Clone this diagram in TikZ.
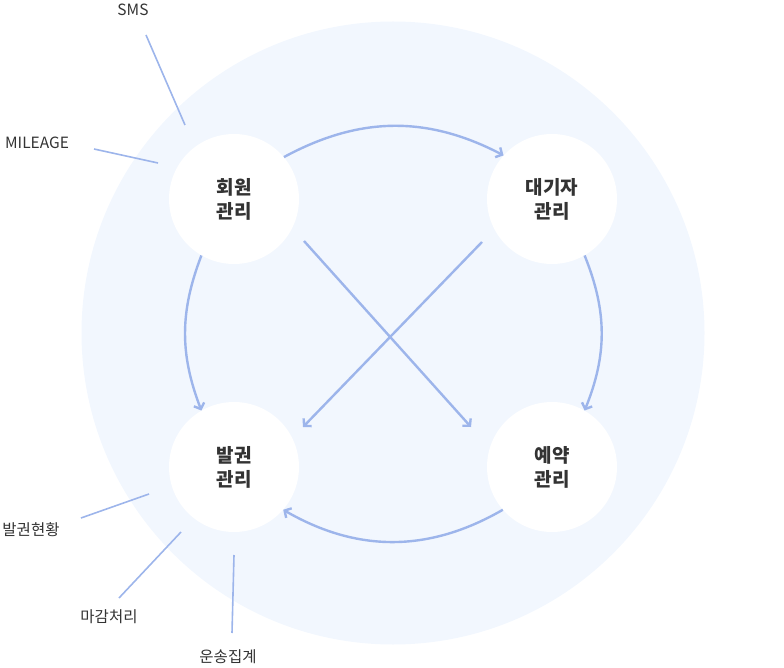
\documentclass[tikz,border=0pt]{standalone}
\usepackage{fontspec}
\usepackage{xcolor}
\usepackage{tikz}
\usetikzlibrary{arrows.meta, positioning}
\newfontfamily\kr{Noto Sans CJK KR}
\definecolor{bgblue}{HTML}{F2F7FE}
\definecolor{lineblue}{HTML}{9DB5EB}
\definecolor{txt}{HTML}{333333}

\begin{document}
\begin{tikzpicture}[x=1pt, y=-1pt,
  task/.style={circle, fill=white, minimum size=130pt, inner sep=0pt,
               align=center, text=txt, font=\kr\fontsize{19}{24}\selectfont\bfseries},
  tag/.style={text=txt, font=\kr\fontsize{15.5}{17}\selectfont, inner sep=0pt},
  arr/.style={-{Straight Barb[length=5pt, width=11pt]}, draw=lineblue, line width=2.4pt},
  lead/.style={draw=lineblue, line width=1.6pt}
]
  \useasboundingbox (0,0) rectangle (784,668);
  \fill[bgblue] (393,333) circle[radius=311.5pt];

  \node[task] (hoewon) at (234,199) {회원\\관리};
  \node[task] (daegi) at (552,199) {대기자\\관리};
  \node[task] (balgwon) at (234,467) {발권\\관리};
  \node[task] (yeyak) at (552,467) {예약\\관리};

  % arcs round the ring
  \draw[arr] (hoewon.40) to[bend left=28] (daegi.138);
  \draw[arr] (daegi.-60) to[bend left=22] (yeyak.60);
  \draw[arr] (yeyak.-139) to[bend left=30] (balgwon.-41);
  \draw[arr] (hoewon.-120) to[bend right=21] (balgwon.120);

  % cross
  \coordinate (c1) at (304,241);
  \coordinate (c2) at (471,427);
  \coordinate (c3) at (482,242);
  \coordinate (c4) at (303,427);
  \draw[arr] (c1) -- (c2);
  \draw[arr] (c3) -- (c4);

  % outside labels
  \node[tag] (sms) at (133,10) {SMS};
  \node[tag] (mileage) at (37,143) {MILEAGE};
  \node[tag] (hyeonhwang) at (31,530) {발권현황};
  \node[tag] (magam) at (109,617) {마감처리};
  \node[tag] (unsong) at (228,657) {운송집계};

  \coordinate (s1) at (146,35);   \coordinate (s2) at (185,125);
  \coordinate (m1) at (94,149);   \coordinate (m2) at (158,163);
  \coordinate (h1) at (81,518);   \coordinate (h2) at (149,494);
  \coordinate (g1) at (119,598);  \coordinate (g2) at (181,532);
  \coordinate (u1) at (232,633);  \coordinate (u2) at (234,555);
  \draw[lead] (s1) -- (s2);
  \draw[lead] (m1) -- (m2);
  \draw[lead] (h1) -- (h2);
  \draw[lead] (g1) -- (g2);
  \draw[lead] (u1) -- (u2);
\end{tikzpicture}
\end{document}
